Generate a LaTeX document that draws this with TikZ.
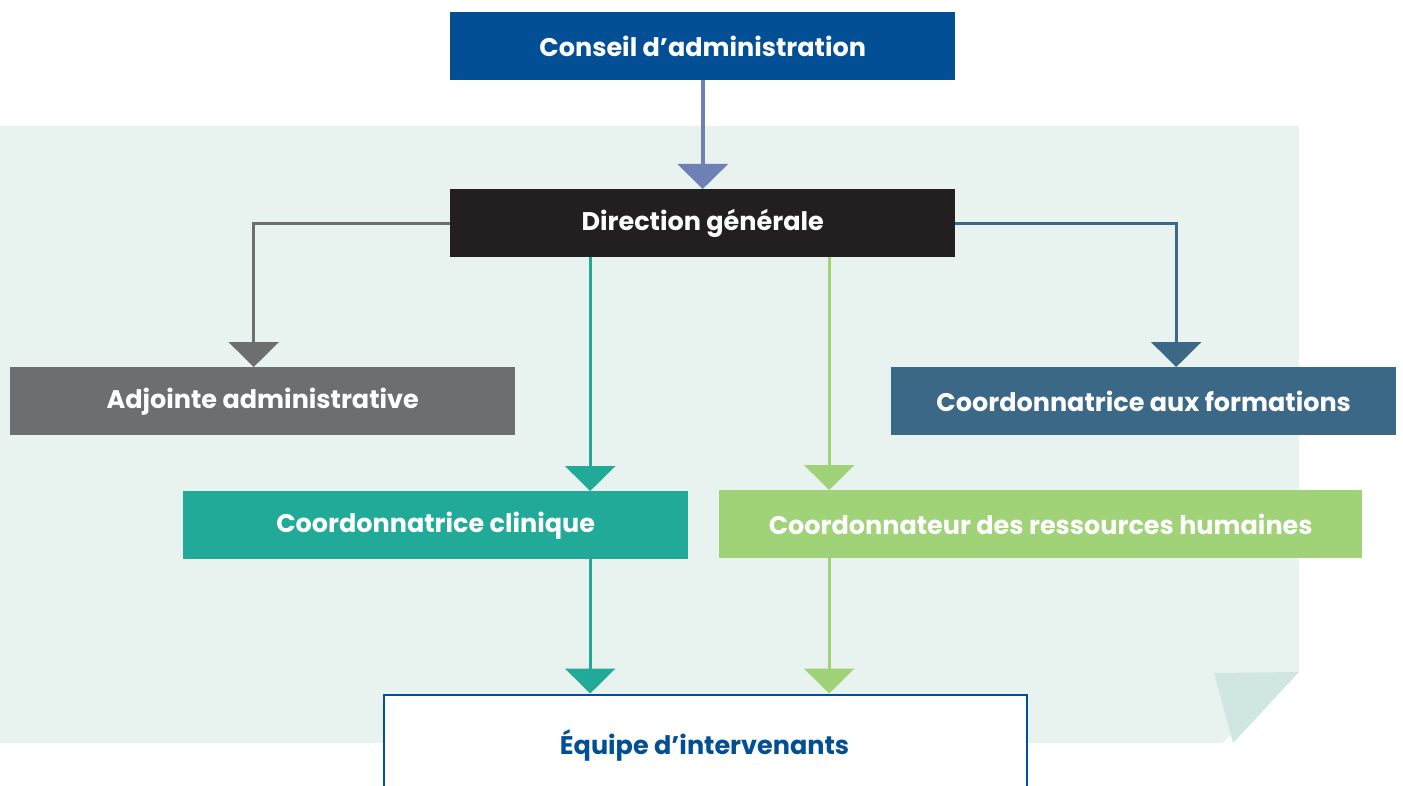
\documentclass[tikz,border=0pt]{standalone}
\usepackage{fontspec}
\setmainfont{Poppins}
\usetikzlibrary{arrows.meta,calc}
\definecolor{bgpanel}{HTML}{E8F2EF}
\definecolor{foldc}{HTML}{D0E6E1}
\definecolor{cblue}{HTML}{034F96}
\definecolor{cdark}{HTML}{231F20}
\definecolor{cgray}{HTML}{6D6E70}
\definecolor{cslate}{HTML}{3C6888}
\definecolor{cteal}{HTML}{22AA98}
\definecolor{cgreen}{HTML}{A0D277}
\definecolor{cperi}{HTML}{6F80B5}
\tikzset{
  lbl/.style={font=\fontsize{25.5}{30}\selectfont\bfseries},
  box/.style={lbl,minimum width=505pt,minimum height=68pt,inner sep=0pt,text=white,anchor=north west},
  conn/.style={line width=3pt,-{Triangle[width=50pt,length=25pt]}},
}
\begin{document}
\begin{tikzpicture}[x=1pt,y=-1pt]
\useasboundingbox (0,0) rectangle (1403,786);
\clip (0,0) rectangle (1403,786);
% background panel with folded corner
\fill[bgpanel] (0,126) -- (1299,126) -- (1299,672) -- (1222,743) -- (0,743) -- cycle;
\fill[foldc] (1214,673) -- (1299,672) -- (1233,743) -- cycle;
% nodes
\node[box,fill=cblue] (ca) at (450,12) {Conseil d’administration};
\node[box,fill=cdark] (dg) at (450,189) {Direction générale};
\node[box,fill=cgray] (adj) at (10,367) {Adjointe administrative};
\node[box,fill=cslate] (form) at (891,367) {Coordonnatrice aux formations};
\node[box,fill=cteal] (clin) at (183,491) {Coordonnatrice clinique};
\node[box,fill=cgreen,minimum width=643pt] (rh) at (719,490) {Coordonnateur des ressources humaines};
\node[box,fill=white,draw=cblue,line width=2pt,minimum width=643pt,minimum height=110pt,text=cblue] (eq) at (382.5,693.5) {};
\node[lbl,text=cblue] (eqt) at (704.5,745) {Équipe d’intervenants};
% connectors
\coordinate (c1) at ([xshift=-112.5pt]dg.south);
\coordinate (c2) at ([xshift=126.5pt]dg.south);
\draw[conn,line width=4pt,cperi] (ca.south) -- (dg.north);
\draw[conn,cgray] (dg.west) -| ([xshift=-9pt]adj.north);
\draw[conn,cslate] (dg.east) -| ([xshift=32.5pt]form.north);
\draw[conn,cteal] (c1) -- (c1 |- clin.north);
\draw[conn,cgreen] (c2) -- (c2 |- rh.north);
\draw[conn,cteal] (c1 |- clin.south) -- (c1 |- eq.north);
\draw[conn,cgreen] (c2 |- rh.south) -- (c2 |- eq.north);
\end{tikzpicture}
\end{document}
